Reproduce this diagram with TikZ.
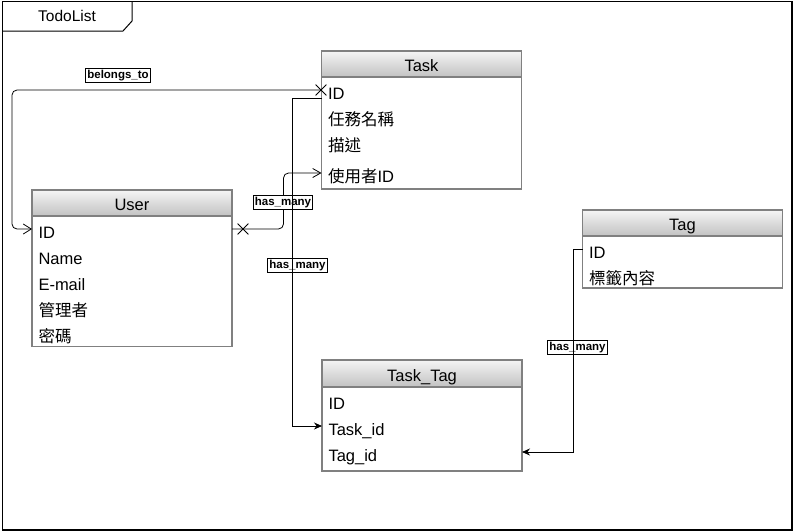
\documentclass[tikz,border=0pt]{standalone}
\usepackage{fontspec}
\setmainfont{Liberation Sans}
\newfontfamily\cjk{Noto Sans CJK TC}
\usetikzlibrary{positioning,arrows.meta,shapes.misc}

\begin{document}
\begin{tikzpicture}[x=1pt,y=-1pt,
    tblhead/.style={rectangle, draw=gray, line width=1.2pt, top color=gray!8, bottom color=gray!48,
      minimum width=200pt, minimum height=26pt, inner sep=0pt, outer sep=0pt,
      text height=18pt, text depth=3pt, font=\fontsize{16.5}{19}\selectfont},
    tblbody/.style={rectangle, draw=gray, line width=1.2pt, fill=white,
      minimum width=200pt, inner sep=0pt, outer sep=0pt},
    tblrow/.style={rectangle, text width=187pt, align=left, inner xsep=6.5pt, inner ysep=4pt,
      text height=18pt, text depth=0pt, outer sep=0pt, font=\fontsize{16.5}{19}\selectfont},
    rel/.style={draw, line width=0.8pt},
    lbl/.style={rectangle, draw, fill=white, line width=0.8pt, inner xsep=1.5pt, inner ysep=1.5pt,
      text height=8.5pt, text depth=2.5pt, font=\bfseries\fontsize{11.5}{12}\selectfont},
    xmark/.style={cross out, draw, line width=0.8pt, minimum size=10pt, inner sep=0pt}
  ]
      \useasboundingbox (0,0) rectangle (793,531);
      \draw[line width=1.2pt]
      (2.5,1.2) rectangle (792,530);
      \draw[line width=1pt]
      (2.5,31)--(123,31)--(132,21)--(132,1.2);
      \node at (67,16) [font=\fontsize{15.5}{18}\selectfont] (title) {TodoList};

      % Task
      \node at (421.5,64) [tblhead] (task) {Task};
      \node [tblbody, minimum height=112pt, below=0pt of task] (task-body) {};
      \node [tblrow, below=0pt of task] (task-id) {ID};
      \node [tblrow, below=0pt of task-id] (task-name) {\cjk 任務名稱};
      \node [tblrow, below=0pt of task-name] (task-desc) {\cjk 描述};
      \node [tblrow, below=5pt of task-desc] (task-user) {{\cjk 使用者}ID};

      % User
      \node at (132,203) [tblhead] (user) {User};
      \node [tblbody, minimum height=130.5pt, below=0pt of user] (user-body) {};
      \node [tblrow, below=0pt of user] (user-id) {ID};
      \node [tblrow, below=0pt of user-id] (user-name) {Name};
      \node [tblrow, below=0pt of user-name] (user-mail) {E-mail};
      \node [tblrow, below=0pt of user-mail] (user-admin) {\cjk 管理者};
      \node [tblrow, below=0pt of user-admin] (user-pass) {\cjk 密碼};

      % Tag
      \node at (682.5,223) [tblhead] (tag) {Tag};
      \node [tblbody, minimum height=52pt, below=0pt of tag] (tag-body) {};
      \node [tblrow, below=0pt of tag] (tag-id) {ID};
      \node [tblrow, below=0pt of tag-id] (tag-text) {\cjk 標籤內容};

      % Task_Tag
      \node at (422,373.5) [tblhead, minimum height=27pt] (tt) {Task\_Tag};
      \node [tblbody, minimum height=84pt, below=0pt of tt] (tt-body) {};
      \node [tblrow, below=0pt of tt] (tt-id) {ID};
      \node [tblrow, below=0pt of tt-id] (tt-task) {Task\_id};
      \node [tblrow, below=0pt of tt-task] (tt-tag) {Tag\_id};

      \draw[rel, rounded corners=5pt, -{Straight Barb[length=8pt,width=9pt]}]
      (user-id.east) node[xmark, xshift=11pt] {}
        -| ([xshift=-38pt]task-user.west) -- (task-user.west);
      \node at (283,202) [lbl] (lbl-user-task) {has\_many};

      \node at (118,75.5) [lbl] (lbl-belongs) {belongs\_to};
      \node at (297.5,265.5) [lbl] (lbl-task-tt) {has\_many};
      \node at (577.5,347) [lbl] (lbl-tag-tt) {has\_many};

      \draw[rel, rounded corners=5pt, -{Straight Barb[length=8pt,width=10pt]}]
      (task-id.west) node[xmark, xshift=-0.5pt] {}
        -| ([xshift=-20pt]user-id.west) -- (user-id.west);
      \draw[rel, -{Stealth[length=8pt,width=7pt]}]
      ([yshift=-8pt]task-id.west) -| ([xshift=-30pt]tt-task.west) -- (tt-task.west);
      \draw[rel, -{Stealth[length=8pt,width=7pt]}]
      (tag-id.west) -| ([xshift=51pt]tt-tag.east) -- (tt-tag.east);

    \end{tikzpicture}
\end{document}
